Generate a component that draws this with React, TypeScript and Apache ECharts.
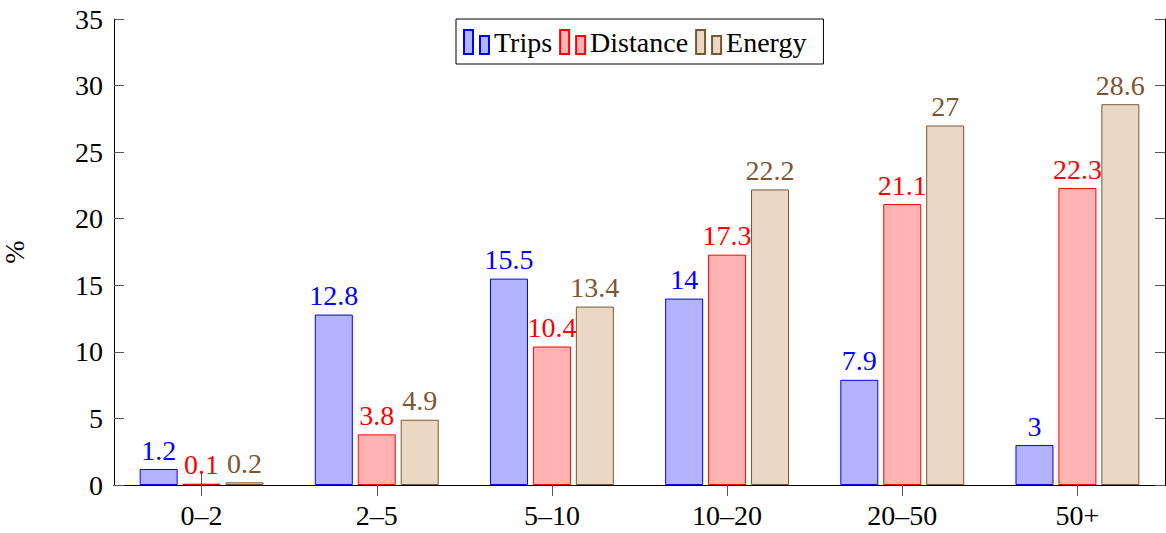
import React, { useEffect, useRef } from "react";
import * as echarts from "echarts";

const categories = ["0–2", "2–5", "5–10", "10–20", "20–50", "50+"];
const trips = [1.2, 12.8, 15.5, 14, 7.9, 3];
const distance = [0.1, 3.8, 10.4, 17.3, 21.1, 22.3];
const energy = [0.2, 4.9, 13.4, 22.2, 27, 28.6];
const yTicks = { min: 0, max: 35, interval: 5 };

const FONT = "'Liberation Serif', 'Times New Roman', serif";
const FS = 28;
const ICON = "path://M0,0 H9 V24 H0 Z M16,6 H25 V24 H16 Z";

export default function App() {
  const ref = useRef<HTMLDivElement>(null);
  useEffect(() => {
    document.body.style.margin = "0";
    if (!ref.current) return;
    const chart = echarts.init(ref.current, undefined, { renderer: "svg" });
    const mk = (name: string, data: number[], fill: string, stroke: string, lab: string) => ({
      name,
      type: "bar",
      data,
      barWidth: 38,
      barGap: "13%",
      itemStyle: { color: fill, borderColor: stroke, borderWidth: 1 },
      label: {
        show: true,
        position: "top",
        distance: 5,
        color: lab,
        fontFamily: FONT,
        fontSize: FS,
      },
    });
    const axisLine = { show: true, lineStyle: { color: "#000", width: 1 } };
    const tickStyle = { color: "#555", width: 1 };
    chart.setOption({
      animation: false,
      textStyle: { fontFamily: FONT },
      grid: { left: 114, right: 1, top: 19, bottom: 48, outerBoundsMode: "none", containLabel: false },
      legend: {
        top: 19,
        left: 456,
        orient: "horizontal",
        itemWidth: 25,
        itemHeight: 24,
        itemGap: 7,
        icon: ICON,
        borderColor: "#000",
        borderWidth: 1,
        padding: [9, 17, 8, 7],
        textStyle: { fontFamily: FONT, fontSize: FS, color: "#000" },
        data: ["Trips", "Distance", "Energy"],
      },
      xAxis: [
        {
          type: "category",
          data: categories,
          position: "bottom",
          axisLine,
          axisTick: { show: true, alignWithLabel: true, inside: false, length: 11, lineStyle: tickStyle },
          axisLabel: { fontFamily: FONT, fontSize: FS, color: "#000", margin: 16 },
          splitLine: { show: false },
        },
        {
          type: "category",
          data: categories,
          position: "top",
          axisLine,
          axisTick: { show: true, alignWithLabel: true, inside: false, length: 12, lineStyle: tickStyle },
          axisLabel: { show: false },
          splitLine: { show: false },
        },
      ],
      yAxis: [
        {
          type: "value",
          min: yTicks.min,
          max: yTicks.max,
          interval: yTicks.interval,
          position: "left",
          name: "%",
          nameLocation: "middle",
          nameGap: 86,
          nameRotate: 90,
          nameTextStyle: { fontFamily: FONT, fontSize: FS, color: "#000" },
          axisLine,
          axisTick: { show: true, inside: true, length: 10, lineStyle: tickStyle },
          axisLabel: { fontFamily: FONT, fontSize: FS, color: "#000", margin: 11 },
          splitLine: { show: false },
        },
        {
          type: "value",
          min: yTicks.min,
          max: yTicks.max,
          interval: yTicks.interval,
          position: "right",
          axisLine,
          axisTick: { show: true, inside: true, length: 10, lineStyle: tickStyle },
          axisLabel: { show: false },
          splitLine: { show: false },
        },
      ],
      series: [
        mk("Trips", trips, "#b3b3ff", "#0000ff", "#0000ff"),
        mk("Distance", distance, "#ffb3b3", "#ff0000", "#ff0000"),
        mk("Energy", energy, "#ead8c5", "#7d5532", "#7d5532"),
      ],
    });
    return () => chart.dispose();
  }, []);
  return <div ref={ref} style={{ width: 1166, height: 533 }} />;
}
